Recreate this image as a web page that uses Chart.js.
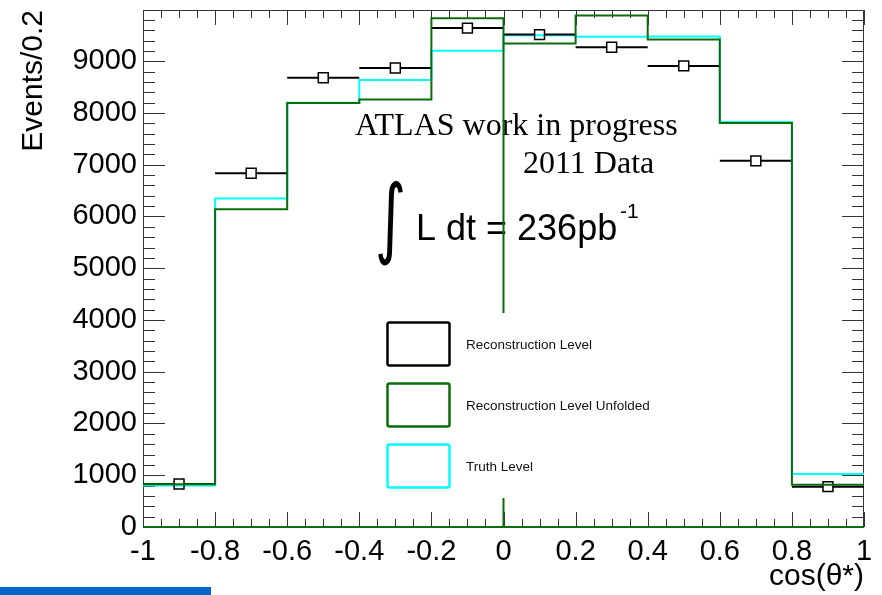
<!DOCTYPE html>
<html>
<head>
<meta charset="utf-8">
<script src="https://cdn.jsdelivr.net/npm/chart.js@4.4.1/dist/chart.umd.min.js"></script>
<style>
  html, body { margin: 0; padding: 0; background: #fff; }
  #wrap { position: relative; width: 882px; height: 595px; overflow: hidden; }
  #band { position: absolute; left: 0; top: 587px; width: 211px; height: 8px; background: #0066cc; }
</style>
</head>
<body>
<div id="wrap">
  <canvas id="c" width="882" height="595"></canvas>
  <div id="band"></div>
</div>
<script>
// cos(theta*) binning: 10 bins of width 0.2
const binEdges = [-1.0, -0.8, -0.6, -0.4, -0.2, 0.0, 0.2, 0.4, 0.6, 0.8, 1.0];
const binCenters = [-0.9, -0.7, -0.5, -0.3, -0.1, 0.1, 0.3, 0.5, 0.7, 0.9];

// Events per bin
const recoLevel     = [830, 6835, 8680, 8870, 9640, 9515, 9270, 8910, 7075, 780];
const unfoldedLevel = [825, 6140, 8195, 8260, 9830, 9345, 9885, 9420, 7808, 815];
const truthLevel    = [800, 6350, 8200, 8635, 9205, 9500, 9475, 9480, 7825, 1025];

// bin edges where the unfolded outline falls to zero
const unfoldedZeroEdges = [0.0];

// axis ticks
const yTickValues = [0, 1000, 2000, 3000, 4000, 5000, 6000, 7000, 8000, 9000];
const xTickValues = [-1, -0.8, -0.6, -0.4, -0.2, 0, 0.2, 0.4, 0.6, 0.8, 1];
const xTickLabels = ['-1', '-0.8', '-0.6', '-0.4', '-0.2', '0', '0.2', '0.4', '0.6', '0.8', '1'];

const yMin = 0, yMax = 9990, yStep = 1000, yMinorStep = 200;
const xMin = -1, xMax = 1, xStep = 0.2, xMinorStep = 0.05;

const GREEN = '#0a6c0a';
const CYAN = '#00ffff';
const BLACK = '#000000';

const legendItems = ['Reconstruction Level', 'Reconstruction Level Unfolded', 'Truth Level'];

// step outline through the bin edges (horizontal first, then vertical)
function outline(values, zeroEdges) {
  const pts = [];
  values.forEach((v, i) => {
    const lo = binEdges[i];
    if (zeroEdges && i > 0 && zeroEdges.some(e => Math.abs(e - lo) < 1e-9)) {
      pts.push({ x: lo, y: 0 });
    }
    pts.push({ x: lo, y: v });
  });
  pts.push({ x: binEdges[binEdges.length - 1], y: values[values.length - 1] });
  return pts;
}

const recoPoints = binCenters.map((x, i) => ({ x: x, y: recoLevel[i] }));

// frame, inner tick marks and the bottom axis line
const framePlugin = {
  id: 'frame',
  beforeDatasetsDraw(chart) {
    const { ctx, chartArea: a, scales: { x, y } } = chart;
    ctx.save();
    ctx.strokeStyle = '#333';
    ctx.lineWidth = 1;
    ctx.beginPath();
    ctx.moveTo(a.left + 0.5, a.bottom);
    ctx.lineTo(a.left + 0.5, a.top + 0.5);
    ctx.lineTo(a.right - 0.5, a.top + 0.5);
    ctx.lineTo(a.right - 0.5, a.bottom);
    ctx.stroke();

    ctx.beginPath();
    // y ticks (left and right)
    for (let v = yMin; v <= yMax + 1e-6; v += yMinorStep) {
      const major = Math.abs(v / yStep - Math.round(v / yStep)) < 1e-6;
      const len = major ? 22 : 12;
      const py = Math.round(y.getPixelForValue(v)) + 0.5;
      ctx.moveTo(a.left, py); ctx.lineTo(a.left + len, py);
      ctx.moveTo(a.right, py); ctx.lineTo(a.right - len, py);
    }
    // x ticks (bottom and top)
    for (let i = 0; i <= Math.round((xMax - xMin) / xMinorStep); i++) {
      const v = xMin + i * xMinorStep;
      const major = i % Math.round(xStep / xMinorStep) === 0;
      const len = major ? 15 : 8;
      const px = Math.round(x.getPixelForValue(v)) + 0.5;
      ctx.moveTo(px, a.bottom); ctx.lineTo(px, a.bottom - len);
      ctx.moveTo(px, a.top); ctx.lineTo(px, a.top + len);
    }
    ctx.stroke();

    ctx.strokeStyle = GREEN;
    ctx.lineWidth = 2;
    ctx.beginPath();
    ctx.moveTo(a.left, a.bottom);
    ctx.lineTo(a.right, a.bottom);
    ctx.stroke();
    ctx.restore();
  }
};

// labels inside the plot
const textPlugin = {
  id: 'labels',
  beforeDatasetsDraw(chart) {
    const { ctx } = chart;
    ctx.save();
    ctx.fillStyle = '#000';
    ctx.textBaseline = 'alphabetic';
    ctx.textAlign = 'left';
    ctx.font = '32px "Liberation Serif"';
    ctx.fillText('ATLAS work in progress', 355, 135);
    ctx.fillText('2011 Data', 523, 173);

    // integral sign stretched to its box
    ctx.font = '60px "DejaVu Sans"';
    const m = ctx.measureText('∫');
    const gw = m.actualBoundingBoxLeft + m.actualBoundingBoxRight;
    const gh = m.actualBoundingBoxAscent + m.actualBoundingBoxDescent;
    const bx = 378, by = 180, bw = 25, bh = 86;
    ctx.save();
    ctx.translate(bx, by);
    ctx.scale(bw / gw, bh / gh);
    ctx.fillText('∫', m.actualBoundingBoxLeft, m.actualBoundingBoxAscent);
    ctx.restore();

    ctx.font = '36px "Liberation Sans"';
    ctx.fillText('L dt = 236pb', 416, 240);
    ctx.font = '21px "Liberation Sans"';
    ctx.fillText('-1', 620, 218);
    ctx.restore();
  }
};

// horizontal bin-width bars on the reconstruction points
const errorBarPlugin = {
  id: 'xerrors',
  afterDatasetDraw(chart, args) {
    const ds = chart.data.datasets[args.index];
    if (ds.label !== 'Reconstruction Level') return;
    const { ctx, scales: { x, y } } = chart;
    const half = 5;
    ctx.save();
    ctx.strokeStyle = BLACK;
    ctx.lineWidth = 2;
    ctx.beginPath();
    ds.data.forEach(p => {
      const px = x.getPixelForValue(p.x);
      const py = y.getPixelForValue(p.y);
      const lo = x.getPixelForValue(p.x - xStep / 2);
      const hi = x.getPixelForValue(p.x + xStep / 2);
      ctx.moveTo(lo, py); ctx.lineTo(px - half, py);
      ctx.moveTo(px + half, py); ctx.lineTo(hi, py);
    });
    ctx.stroke();
    ctx.restore();
  }
};

// boxed legend with white background
const legendPlugin = {
  id: 'boxLegend',
  afterDatasetsDraw(chart) {
    const { ctx } = chart;
    ctx.save();
    ctx.fillStyle = '#fff';
    ctx.fillRect(372, 313, 284, 185);
    legendItems.forEach((label, i) => {
      const ds = chart.data.datasets.find(d => d.label === label);
      const top = 322 + i * 61;
      ctx.strokeStyle = ds.borderColor;
      ctx.lineWidth = 2.5;
      ctx.beginPath();
      ctx.roundRect(387.5, top + 0.5, 62, 43, 2);
      ctx.stroke();
      ctx.fillStyle = '#111';
      ctx.font = '13.5px "Liberation Sans"';
      ctx.textAlign = 'left';
      ctx.textBaseline = 'middle';
      ctx.fillText(label, 466, top + 23);
    });
    ctx.restore();
  }
};

const tickFont = { family: 'Liberation Sans', size: 29 };
const titleFont = { family: 'Liberation Sans', size: 30 };

new Chart(document.getElementById('c'), {
  type: 'scatter',
  data: {
    datasets: [
      {
        label: 'Reconstruction Level Unfolded',
        type: 'line',
        data: outline(unfoldedLevel, unfoldedZeroEdges),
        stepped: 'before',
        borderColor: GREEN,
        borderWidth: 2,
        pointRadius: 0,
        fill: false,
        order: 0
      },
      {
        label: 'Reconstruction Level',
        type: 'scatter',
        data: recoPoints,
        pointStyle: 'rect',
        pointRadius: 7,
        borderColor: BLACK,
        borderWidth: 1.5,
        backgroundColor: 'rgba(0,0,0,0)',
        order: 1
      },
      {
        label: 'Truth Level',
        type: 'line',
        data: outline(truthLevel),
        stepped: 'before',
        borderColor: CYAN,
        borderWidth: 2,
        pointRadius: 0,
        fill: false,
        order: 2
      }
    ]
  },
  options: {
    responsive: false,
    animation: false,
    events: [],
    layout: { padding: { top: 10, right: 18, left: 0, bottom: 0 } },
    plugins: { legend: { display: false }, tooltip: { enabled: false } },
    scales: {
      x: {
        type: 'linear',
        min: xMin, max: xMax,
        grid: { display: false, drawTicks: false },
        border: { display: false },
        afterBuildTicks(s) { s.ticks = xTickValues.map(v => ({ value: v })); },
        ticks: {
          padding: 8, font: tickFont, color: '#000',
          maxRotation: 0, autoSkip: false,
          callback: (v, i) => xTickLabels[i]
        },
        title: {
          display: true, text: 'cos(θ*)', align: 'end', color: '#000',
          font: titleFont, padding: 0
        },
        afterFit(s) { s.height = 68; s.paddingLeft = 0; s.paddingRight = 0; }
      },
      y: {
        type: 'linear',
        min: yMin, max: yMax,
        grid: { display: false, drawTicks: false },
        border: { display: false },
        afterBuildTicks(s) { s.ticks = yTickValues.map(v => ({ value: v })); },
        ticks: {
          padding: 6, font: tickFont, color: '#000', autoSkip: false,
          callback: v => String(v)
        },
        title: {
          display: true, text: 'Events/0.2', align: 'end', color: '#000',
          font: titleFont, padding: { top: 16, bottom: 0 }
        },
        afterFit(s) { s.width = 143; s.paddingTop = 0; s.paddingBottom = 0; }
      }
    }
  },
  plugins: [framePlugin, textPlugin, errorBarPlugin, legendPlugin]
});
</script>
</body>
</html>
